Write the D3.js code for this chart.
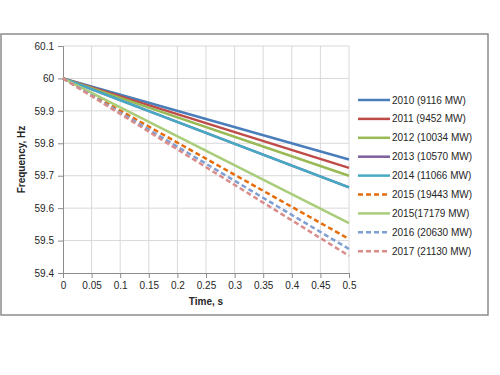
<!DOCTYPE html>
<html>
<head>
<meta charset="utf-8">
<script src="https://cdn.jsdelivr.net/npm/d3@7"></script>
<style>
  body { margin:0; background:#fff; }
  text { font-family: "Liberation Sans", Arial, sans-serif; fill:#262626; }
</style>
</head>
<body>
<div id="plot"></div>
<script>
// series: value at t=0 and at t=0.5 s
var seriesNames = ['2010 (9116 MW)','2011 (9452 MW)','2012 (10034 MW)','2013 (10570 MW)',
  '2014 (11066 MW)','2015 (19443 MW)','2015(17179 MW)','2016 (20630 MW)','2017 (21130 MW)'];
var times = [0, 0.5];
var freqs = [
  [60, 59.75],
  [60, 59.724],
  [60, 59.70],
  [60, 59.664],
  [60, 59.664],
  [60, 59.505],
  [60, 59.554],
  [60, 59.474],
  [60, 59.453]
];
var colors = ['#4a7ebb','#be4b48','#98b954','#7d60a0','#46aac5','#e46c0a','#a9cd7a','#7f9fd3','#d98c8a'];
var dashed = [false,false,false,false,false,true,false,true,true];
var xTicks = [0,0.05,0.1,0.15,0.2,0.25,0.3,0.35,0.4,0.45,0.5];
var yTicks = [59.4,59.5,59.6,59.7,59.8,59.9,60,60.1];

var W = 500, H = 375;
var margin = {t:46, l:63, r:151, b:102};

var svg = d3.select('#plot').append('svg')
  .attr('width', W).attr('height', H);

// outer frame
svg.append('rect')
  .attr('x', 1).attr('y', 34).attr('width', 487).attr('height', 281)
  .attr('fill', 'none').attr('stroke', '#8c8c8c').attr('stroke-width', 1.5);

var x = d3.scaleLinear().domain([0, 0.5]).range([margin.l, W - margin.r]);
var y = d3.scaleLinear().domain([59.4, 60.1]).range([H - margin.b, margin.t]);

// gridlines
svg.append('g').selectAll('line.v').data(xTicks.slice(1)).enter().append('line')
  .attr('x1', d => x(d)).attr('x2', d => x(d))
  .attr('y1', y(59.4)).attr('y2', y(60.1))
  .attr('stroke', '#d9d9d9').attr('stroke-width', 1);
svg.append('g').selectAll('line.h').data(yTicks.slice(1)).enter().append('line')
  .attr('x1', x(0)).attr('x2', x(0.5))
  .attr('y1', d => y(d)).attr('y2', d => y(d))
  .attr('stroke', '#d9d9d9').attr('stroke-width', 1);

// axes
var xAxis = d3.axisBottom(x).tickValues(xTicks).tickSize(5).tickPadding(4)
  .tickFormat(d => d3.format('')(+d.toFixed(2)));
var yAxis = d3.axisLeft(y).tickValues(yTicks).tickSize(5).tickPadding(4)
  .tickFormat(d => d3.format('')(+d.toFixed(1)));

var gx = svg.append('g').attr('transform', 'translate(0,' + y(59.4) + ')').call(xAxis);
var gy = svg.append('g').attr('transform', 'translate(' + x(0) + ',0)').call(yAxis);
[gx, gy].forEach(function(g){
  g.select('.domain').attr('stroke', '#8c8c8c');
  g.selectAll('.tick line').attr('stroke', '#8c8c8c');
  g.selectAll('.tick text').style('font-family', '"Liberation Sans", Arial, sans-serif')
    .style('font-size', '10px').attr('fill', '#262626');
});

// axis titles
svg.append('text').attr('x', x(0.25)).attr('y', 305)
  .attr('text-anchor', 'middle').style('font-size', '10px').style('font-weight', 'bold')
  .text('Time, s');
svg.append('text').attr('transform', 'translate(25,' + y(59.75) + ') rotate(-90)')
  .attr('text-anchor', 'middle').style('font-size', '10px').style('font-weight', 'bold')
  .text('Frequency, Hz');

// lines
var line = d3.line().x((d, i) => x(times[i])).y(d => y(d));
freqs.forEach(function(vals, i){
  svg.append('path')
    .attr('d', line(vals))
    .attr('fill', 'none')
    .attr('stroke', colors[i])
    .attr('stroke-width', 2.5)
    .attr('stroke-dasharray', dashed[i] ? '5,3' : null);
});

// legend
var leg = svg.append('g').attr('transform', 'translate(358,100)');
seriesNames.forEach(function(name, i){
  var row = leg.append('g').attr('transform', 'translate(0,' + (i * 18.9) + ')');
  row.append('line').attr('x1', 0).attr('x2', 32).attr('y1', 0).attr('y2', 0)
    .attr('stroke', colors[i]).attr('stroke-width', 2.5)
    .attr('stroke-dasharray', dashed[i] ? '5,3' : null);
  row.append('text').attr('x', 34).attr('y', 3.5)
    .style('font-size', '10px').text(name);
});
</script>
</body>
</html>
